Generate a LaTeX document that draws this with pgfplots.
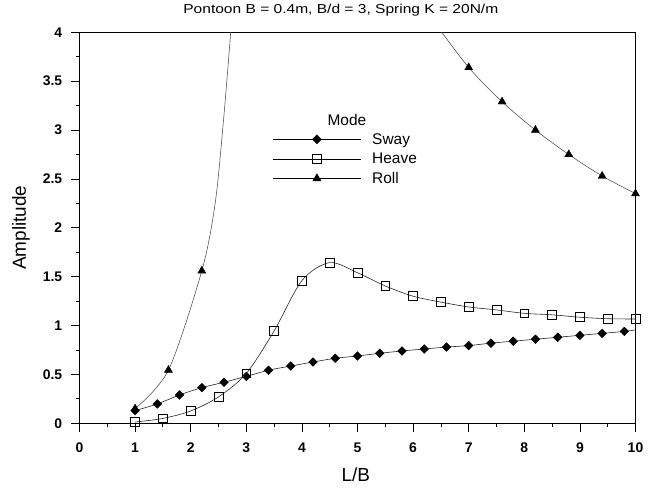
\documentclass[border=0pt]{standalone}
\usepackage{pgfplots}
\pgfplotsset{compat=1.18}
\usepackage{fontspec}
\setmainfont{Liberation Sans}
\newfontfamily\titlefont[FakeStretch=1.2]{Liberation Sans}
\begin{document}
\begin{tikzpicture}
\useasboundingbox (-79.5bp,-64.7bp) rectangle (582.5bp,423.3bp);
\begin{axis}[
  at={(0,0)}, anchor=south west,
  scale only axis, width=556bp, height=391bp,
  xmin=0, xmax=10, ymin=0, ymax=4,
  xtick={0,1,...,10}, ytick={0,0.5,...,4},
  yticklabels={0,0.5,1,1.5,2,2.5,3,3.5,4},
  minor x tick num=1, minor y tick num=1,
  tick align=outside, xtick pos=left, ytick pos=left,
  major tick length=8.5bp, minor tick length=4bp,
  every tick/.style={black, line width=0.8bp},
  axis line style={black, line width=0.9bp},
  /pgf/number format/assume math mode=true,
  ticklabel style={font=\bfseries\fontsize{14}{16}\selectfont},
  xticklabel style={yshift=-7.5bp},
  yticklabel style={xshift=-5.3bp},
  xlabel={L/B}, ylabel={Amplitude},
  xlabel style={at={(axis description cs:0.497,-0.132)}, anchor=center, font=\fontsize{19}{22}\selectfont},
  ylabel style={at={(axis description cs:-0.1052,0.5)}, anchor=center, font=\fontsize{19}{22}\selectfont},
  title={Pontoon B = 0.4m, B/d = 3, Spring K = 20N/m},
  title style={at={(axis description cs:0.470,1.0327)}, anchor=base, font=\titlefont\fontsize{13}{15}\selectfont},
  clip mode=individual,
  legend image code/.code={\draw[mark repeat=2,mark phase=2] plot coordinates {(0bp,0bp)(44bp,0bp)(88bp,0bp)};},
  legend style={at={(axis cs:3.47,2.99)}, anchor=north west, draw=none, fill=none,
    inner sep=0pt, font=\fontsize{15.5}{18}\selectfont, row sep=3.3bp,
    /tikz/every odd column/.append style={column sep=9bp}},
  legend cell align=left,
]
% Sway
\addplot[black!85, line width=0.6bp, smooth, forget plot] coordinates {
(1,0.13)(1.4,0.198)(1.8,0.29)(2.2,0.365)(2.6,0.42)(3.0,0.48)(3.4,0.543)(3.8,0.586)
(4.2,0.627)(4.6,0.665)(5.0,0.689)(5.4,0.716)(5.8,0.74)(6.2,0.76)(6.6,0.78)(7.0,0.795)
(7.4,0.82)(7.8,0.84)(8.2,0.86)(8.6,0.88)(9.0,0.90)(9.4,0.92)(9.8,0.94)(10,0.955)};
\addplot[only marks, mark=square*, mark size=3.1bp, mark options={rotate=45, fill=black, draw=black}, forget plot] coordinates {
(1,0.13)(1.4,0.198)(1.8,0.29)(2.2,0.365)(2.6,0.42)(3.0,0.48)(3.4,0.543)(3.8,0.586)
(4.2,0.627)(4.6,0.665)(5.0,0.689)(5.4,0.716)(5.8,0.74)(6.2,0.76)(6.6,0.78)(7.0,0.795)
(7.4,0.82)(7.8,0.84)(8.2,0.86)(8.6,0.88)(9.0,0.90)(9.4,0.92)(9.8,0.94)};
% Heave
\addplot[black!85, line width=0.6bp, smooth, forget plot] coordinates {
(1,0.013)(1.5,0.05)(2,0.126)(2.5,0.27)(3,0.51)(3.5,0.945)(4,1.46)(4.5,1.644)(5,1.54)
(5.5,1.405)(6,1.30)(6.5,1.24)(7,1.19)(7.5,1.16)(8,1.125)(8.5,1.11)(9,1.085)(9.5,1.07)(10,1.067)};
\addplot[only marks, mark=square, mark size=4.4bp, mark options={draw=black, line width=0.7bp}, forget plot] coordinates {
(1,0.013)(1.5,0.05)(2,0.126)(2.5,0.27)(3,0.51)(3.5,0.945)(4,1.46)(4.5,1.644)(5,1.54)
(5.5,1.405)(6,1.30)(6.5,1.24)(7,1.19)(7.5,1.16)(8,1.125)(8.5,1.11)(9,1.085)(9.5,1.07)(10,1.067)};
% Roll
\addplot[black!70, line width=0.55bp, smooth, forget plot] coordinates {
(1,0.15)(1.6,0.545)(2.2,1.56)(2.44,2.25)(2.59,3.1)(2.72,4.0)(2.8,4.6)};
\addplot[black!70, line width=0.55bp, smooth, forget plot] coordinates {
(6.4,4.09)(7,3.64)(7.6,3.29)(8.2,3.0)(8.8,2.75)(9.4,2.53)(10,2.35)};
\addplot[only marks, mark=triangle*, mark size=4.6bp, mark options={fill=black, draw=black}, forget plot] coordinates {
(1,0.15)(1.6,0.545)(2.2,1.56)(7,3.64)(7.6,3.29)(8.2,3.0)(8.8,2.75)(9.4,2.53)(10,2.35)};
% legend
\addlegendimage{black, line width=0.6bp, mark=square*, mark size=3.1bp, mark options={rotate=45, fill=black}}
\addlegendentry{Sway}
\addlegendimage{black, line width=0.6bp, mark=square, mark size=4.4bp}
\addlegendentry{Heave}
\addlegendimage{black, line width=0.6bp, mark=triangle*, mark size=4.6bp, mark options={fill=black}}
\addlegendentry{Roll}
\node[anchor=base, font=\fontsize{15.5}{18}\selectfont] at (axis cs:4.81,3.048) {Mode};
\end{axis}
\end{tikzpicture}
\end{document}
